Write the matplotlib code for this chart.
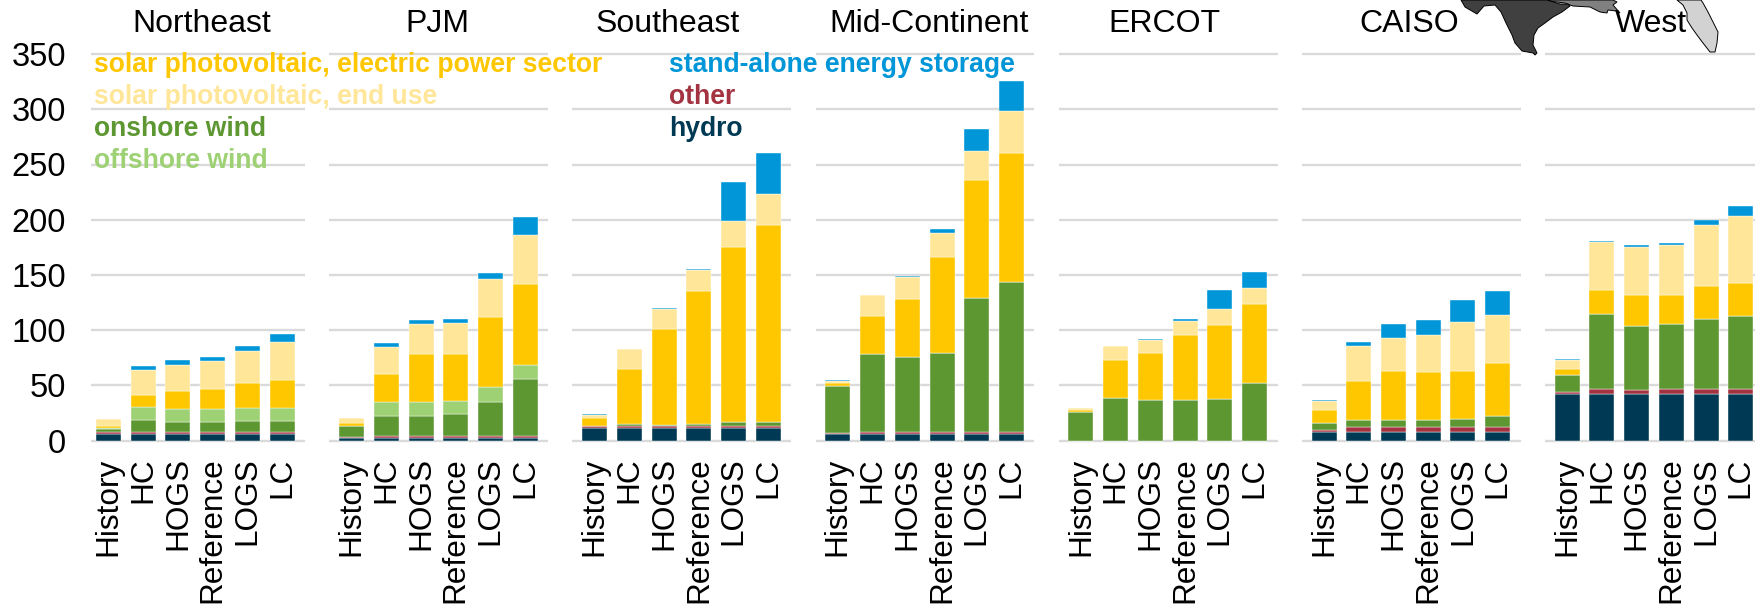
import matplotlib
matplotlib.use('Agg')
import matplotlib.pyplot as plt
from matplotlib.patches import Polygon
import numpy as np

plt.rcParams['font.family'] = ['Liberation Sans', 'DejaVu Sans']

W, H = 1756, 607

# ── data (GW) ─────────────────────────────────────────────────────────────────
regions = ['Northeast', 'PJM', 'Southeast', 'Mid-Continent', 'ERCOT', 'CAISO', 'West']
cases = ['History', 'HC', 'HOGS', 'Reference', 'LOGS', 'LC']

# one row per region, one column per case
hydro = [[5.7, 5.7, 5.7, 5.7, 5.7, 5.7],
         [2.1, 2.0, 2.0, 2.0, 2.0, 2.0],
         [11.2, 11.2, 11.2, 11.2, 11.2, 11.2],
         [5.7, 5.7, 5.7, 5.7, 5.7, 5.7],
         [0, 0, 0, 0, 0, 0],
         [7.5, 7.5, 7.5, 7.5, 7.5, 7.5],
         [42, 42, 42, 42, 42, 42]]
other = [[1.6, 1.8, 1.8, 1.8, 1.8, 1.8],
         [1.5, 1.9, 2.2, 2.2, 2.2, 2.4],
         [1.5, 1.8, 1.8, 1.8, 1.8, 1.8],
         [1.3, 1.8, 1.8, 1.8, 1.8, 1.8],
         [0, 0, 0, 0, 0, 0],
         [1.9, 4.3, 4.3, 4.3, 4.3, 4.5],
         [1.8, 4.2, 3.6, 4.2, 4.8, 4.8]]
onshore = [[3.3, 11.5, 9.5, 9.7, 10.5, 10.3],
           [9.1, 18.5, 17.6, 19.4, 31.1, 50.9],
           [0, 1.5, 0.6, 1.8, 4.0, 4.2],
           [42.8, 70.7, 67.7, 71.5, 121.8, 135.7],
           [25.7, 38.4, 37, 37, 38, 51.7],
           [6.3, 6.9, 6.9, 7.2, 7.5, 9.8],
           [15.4, 68.8, 58.4, 59.2, 63.2, 65.9]]
offshore = [[0.4, 11, 11.4, 11.2, 11.3, 11.2],
            [0.3, 12.3, 12.9, 12.6, 13, 12.7],
            [0, 0, 0, 0, 0, 0],
            [0, 0, 0, 0, 0, 0],
            [0, 0, 0, 0, 0, 0],
            [0, 0, 0, 0, 0, 0],
            [0, 0, 0, 0, 0, 0]]
solar_power = [[2.0, 11, 16, 17.8, 22.4, 25.4],
               [3.3, 25.1, 43.5, 42, 63.5, 73.7],
               [8.1, 50, 87.4, 120.5, 158, 177.7],
               [2.2, 34.8, 52.8, 87.5, 106.7, 117.2],
               [2.3, 34.4, 41.9, 58.8, 66.8, 71.6],
               [12, 35.1, 44.5, 43.5, 44.1, 48],
               [5.2, 21, 27.7, 26.3, 30, 29.9]]
solar_end = [[6.3, 22.5, 23.6, 25.4, 29.6, 34.4],
             [3.7, 24.5, 27.2, 28.1, 34.2, 44.3],
             [2.2, 18, 18.3, 19.1, 23.8, 28.7],
             [2.0, 18.7, 20.3, 21.5, 26, 38.1],
             [1.0, 12.7, 12.1, 12.2, 14.2, 15.1],
             [8.3, 32, 30, 32.7, 43.6, 44.1],
             [8.6, 44, 43.3, 45.6, 55.5, 60.7]]
storage = [[0.3, 4.2, 4.5, 4.2, 4.5, 7.6],
           [0.8, 3.7, 3.6, 3.4, 5.4, 16],
           [0.6, 0.5, 0.7, 0.9, 35.2, 36.8],
           [0.4, 0.3, 0.7, 3.8, 20, 27.5],
           [0.3, 0.5, 1.0, 1.9, 17.3, 13.9],
           [0.6, 3.0, 12.6, 13.6, 20.2, 21.4],
           [0.4, 1.0, 2.0, 1.2, 3.9, 9.4]]

# ── styles ────────────────────────────────────────────────────────────────────
stack = [(hydro, '#003953'), (other, '#A33340'), (onshore, '#5D9732'),
         (offshore, '#9DD174'), (solar_power, '#FFC700'),
         (solar_end, '#FFE699'), (storage, '#0096D7')]
GRID_COL = '#DADADA'
FS = 22.7


def px(x, y):
    return x / W, 1 - y / H


# axes: case 0 of first panel sits at x=108.5px, one slot is 34.73px
SLOT = 34.73
x_left, x_right = -0.5, (W - 108.5) / SLOT
y_lo, y_hi = -2, 352
left = 108.5 + x_left * SLOT
top = 440.5 - y_hi * 1.104
bot = 440.5 - y_lo * 1.104

fig = plt.figure(figsize=(W / 100, H / 100), dpi=100, facecolor='white')
ax = fig.add_axes([left / W, 1 - bot / H, (W - left) / W, (bot - top) / H])
ax.set_xlim(x_left, x_right)
ax.set_ylim(y_lo, y_hi)
for s in ax.spines.values():
    s.set_visible(False)

ticks, tick_labels = [], []
for r, region in enumerate(regions):
    xs = np.arange(6) + r * 7
    ticks += list(xs)
    tick_labels += cases
    ax.hlines(np.arange(0, 351, 50), xs[0] - 0.64, xs[-1] + 0.66,
              color=GRID_COL, linewidth=1.7, zorder=1)
    bottom = np.zeros(6)
    for values, col in stack:
        vals = np.array(values[r], dtype=float)
        ax.bar(xs, vals, width=0.72, bottom=bottom, color=col,
               edgecolor='white', linewidth=0.3, zorder=2)
        bottom += vals

ax.set_xticks(ticks)
ax.set_xticklabels(tick_labels, rotation=90, ha='center', va='top', fontsize=FS)
ax.set_yticks(np.arange(0, 351, 50))
ax.tick_params(axis='x', length=0, pad=10.5)
ax.tick_params(axis='y', length=0, pad=18, labelsize=FS + 0.8)

# ── map corner, pixel outlines of the inset ───────────────────────────────────
texas = [(1461, 0), (1465, 7), (1477, 14), (1484, 6), (1495, 5), (1501, 12),
         (1506, 23), (1512, 35), (1515, 43), (1522, 51), (1533, 53), (1535, 55),
         (1537, 53), (1533, 45), (1534, 35), (1538, 28), (1545, 23), (1553, 17),
         (1562, 12), (1570, 6), (1568, 4), (1560, 4), (1547, 0)]
louisiana = [(1540, 0), (1565, 3), (1570, 5), (1573, 6), (1590, 7), (1600, 12),
             (1607, 13), (1608, 10), (1616, 11), (1620, 13), (1613, 5),
             (1617, 2), (1613, 0)]
florida = [(1677, 0), (1683, 5), (1687, 13), (1687, 20), (1692, 28), (1697, 35),
           (1703, 43), (1710, 52), (1715, 52), (1717, 43), (1718, 32),
           (1713, 22), (1708, 12), (1703, 3), (1701, 0)]
ax_map = fig.add_axes([0, 0, 1, 1], facecolor='none')
ax_map.set_xlim(0, W)
ax_map.set_ylim(H, 0)
ax_map.axis('off')
for shape, col in [(louisiana, '#808080'), (texas, '#404040'), (florida, '#D2D2D2')]:
    ax_map.add_patch(Polygon(shape, closed=True, facecolor=col,
                             edgecolor='black', linewidth=0.7))

# ── panel titles and coloured legend text ─────────────────────────────────────
title_x = [202, 437, 668, 929, 1164, 1409, 1651]
for name, tx in zip(regions, title_x):
    fig.text(*px(tx, 24), name, ha='center', va='center', fontsize=FS + 0.3)

legend_rows = [('solar photovoltaic, electric power sector', '#FFC700', 94, 65),
               ('solar photovoltaic, end use', '#FFE699', 94, 97),
               ('onshore wind', '#5D9732', 94, 129),
               ('offshore wind', '#9DD174', 94, 161),
               ('stand-alone energy storage', '#0096D7', 669, 65),
               ('other', '#A33340', 669, 97),
               ('hydro', '#003953', 669, 129)]
for label, col, lx, ly in legend_rows:
    fig.text(*px(lx, ly), label, color=col, ha='left', va='center',
             fontsize=19.1, fontweight='bold')

fig.savefig('out.png', dpi=100, facecolor='white')
